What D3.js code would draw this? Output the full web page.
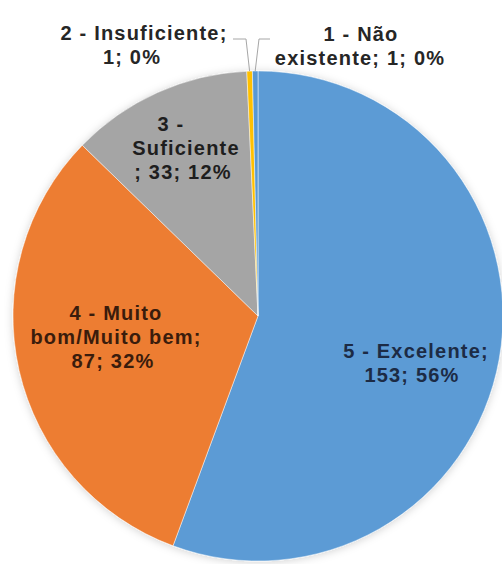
<!DOCTYPE html>
<html>
<head>
<meta charset="utf-8">
<script src="https://cdn.jsdelivr.net/npm/d3@7"></script>
<style>
  html, body { margin: 0; padding: 0; background: #ffffff; }
  svg { display: block; }
  text { font-family: "Liberation Sans", Arial, sans-serif; font-weight: bold; }
</style>
</head>
<body>
<svg id="chart" width="502" height="564"></svg>
<script>
// ---- data ----
const categories = ["5 - Excelente", "4 - Muito bom/Muito bem", "3 - Suficiente", "2 - Insuficiente", "1 - Não existente"];
const values = [153, 87, 33, 1, 1];
const labelLines = [
  ["5 - Excelente;", "153; 56%"],
  ["4 - Muito", "bom/Muito bem;", "87; 32%"],
  ["3 -", "Suficiente", "; 33; 12%"],
  ["2 - Insuficiente;", "1; 0%"],
  ["1 - Não", "existente; 1; 0%"]
];

// ---- styles / layout ----
const colors = ["#5b9bd5", "#ed7d31", "#a5a5a5", "#ffc000", "#5898d3"];
const textColors = ["#1c2b45", "#3a1c0c", "#1e1e1e", "#262626", "#262626"];
const cx = 258, cy = 316, R = 245;
const lineGap = 24;
const labelPos = [
  { xs: [416, 412], y: 358 },
  { xs: [116, 116, 113], y: 320 },
  { xs: [171, 186, 183], y: 131 },
  { xs: [144, 132], y: 40 },
  { xs: [361, 360], y: 41 }
];

const svg = d3.select("#chart");
const defs = svg.append("defs");
const f = defs.append("filter").attr("id", "shadow")
  .attr("x", "-10%").attr("y", "-10%").attr("width", "120%").attr("height", "120%");
f.append("feDropShadow").attr("dx", 0).attr("dy", 1).attr("stdDeviation", 4)
  .attr("flood-color", "#000").attr("flood-opacity", 0.18);

const pie = d3.pie().sort(null).value(d => d).startAngle(0).endAngle(2 * Math.PI);
const arcs = pie(values);
const arc = d3.arc().innerRadius(0).outerRadius(R);

const g = svg.append("g").attr("transform", `translate(${cx},${cy})`);
g.append("g").attr("filter", "url(#shadow)")
  .selectAll("path").data(arcs).enter().append("path")
  .attr("d", arc)
  .attr("fill", (d, i) => colors[i])
  .attr("stroke", "#ffffff")
  .attr("stroke-width", 0.8)
  .attr("stroke-opacity", 0.6);

// leader lines for the tiny slices
function outerPoint(d) {
  const a = (d.startAngle + d.endAngle) / 2;
  return [cx + R * Math.sin(a), cy - R * Math.cos(a)];
}
const leaders = [
  { idx: 3, pts: [[233, 39], [246, 39]] },
  { idx: 4, pts: [[270, 39], [259, 39]] }
];
const line = d3.line();
leaders.forEach(l => {
  const p = outerPoint(arcs[l.idx]);
  svg.append("path")
    .attr("d", line(l.pts.concat([p])))
    .attr("fill", "none")
    .attr("stroke", "#a6a6a6")
    .attr("stroke-width", 1);
});

// labels
labelLines.forEach((lines, i) => {
  const pos = labelPos[i];
  const t = svg.append("text")
    .attr("fill", textColors[i])
    .attr("font-size", 20)
    .attr("letter-spacing", "1.2px")
    .attr("text-anchor", "middle");
  lines.forEach((s, j) => {
    t.append("tspan")
      .attr("x", pos.xs[j])
      .attr("y", pos.y + j * lineGap)
      .text(s);
  });
});
</script>
</body>
</html>
